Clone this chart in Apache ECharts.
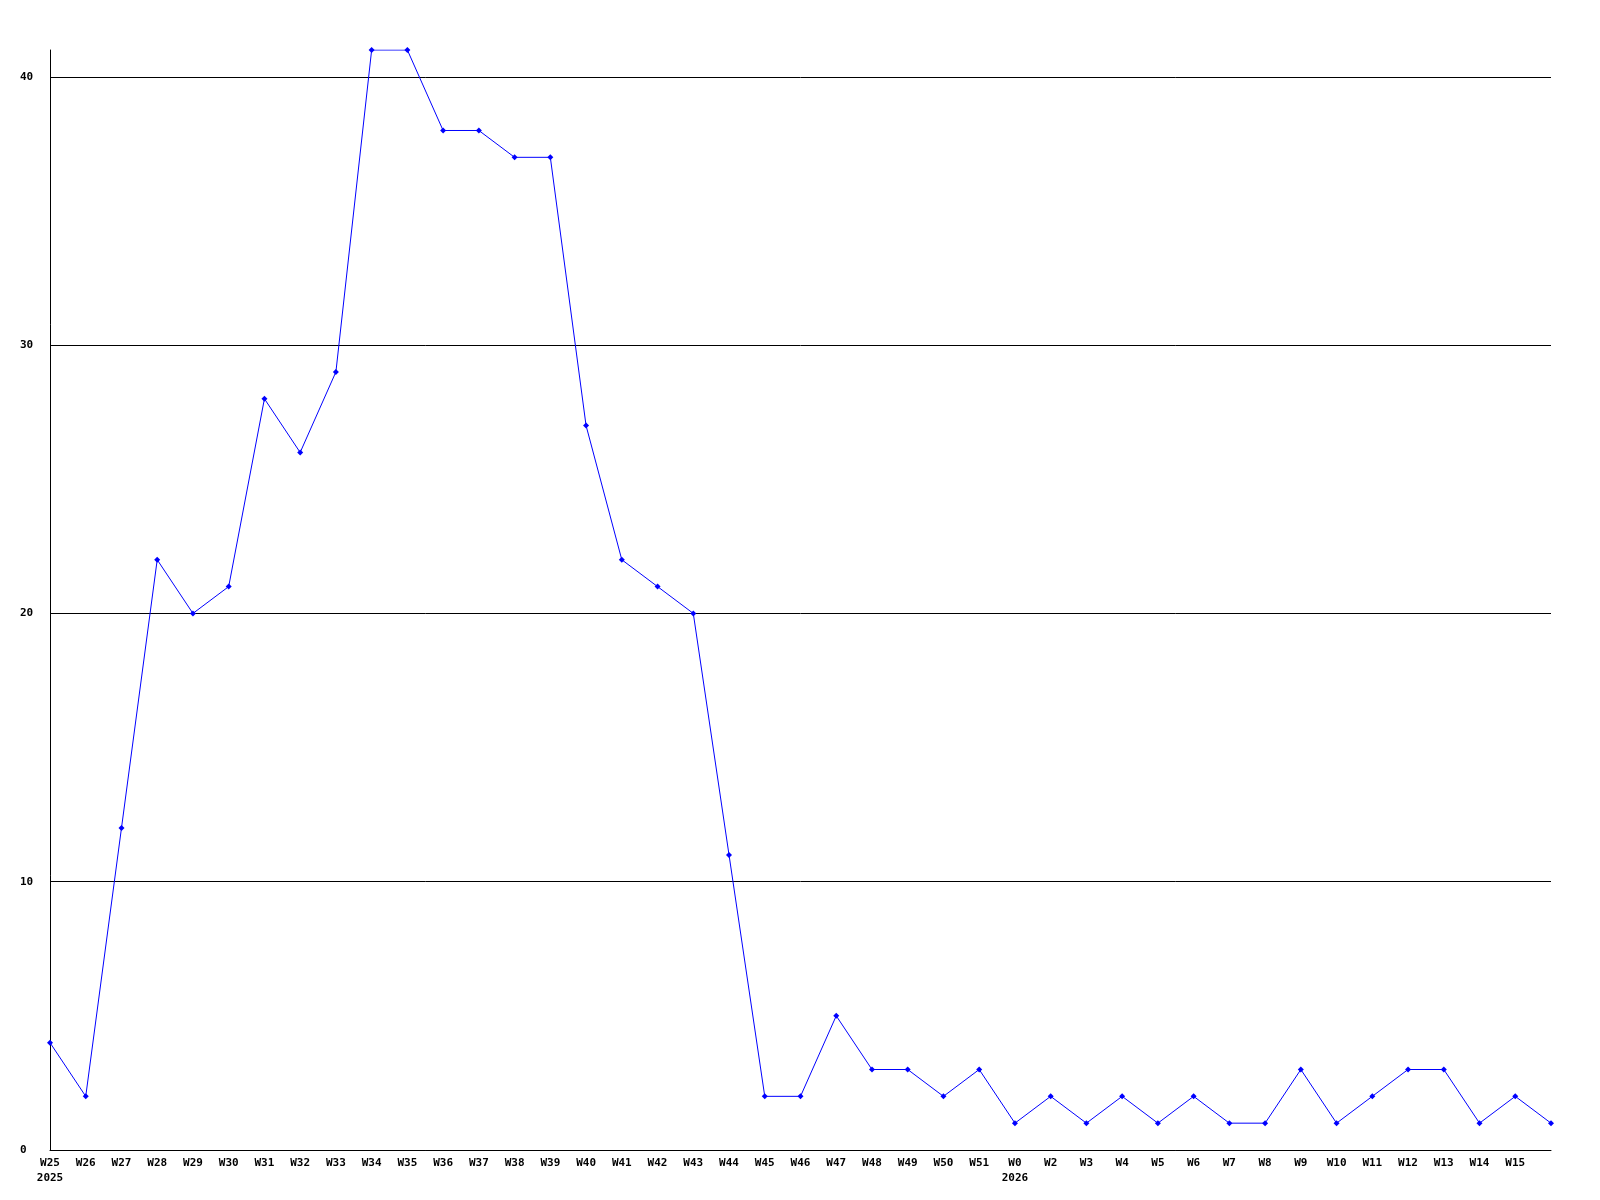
<!DOCTYPE html>
<html><head><meta charset="utf-8">
<script src="https://cdn.jsdelivr.net/npm/echarts@6/dist/echarts.min.js"></script>
<style>html,body{margin:0;padding:0;background:#fff}#c{width:1600px;height:1200px}</style>
</head><body><div id="c"></div>
<script>
const weeks = ['W25','W26','W27','W28','W29','W30','W31','W32','W33','W34','W35','W36','W37','W38','W39','W40','W41','W42','W43','W44','W45','W46','W47','W48','W49','W50','W51','W0','W2','W3','W4','W5','W6','W7','W8','W9','W10','W11','W12','W13','W14','W15',''];
const years = {0:'2025', 27:'2026'};
const values = [4,2,12,22,20,21,28,26,29,41,41,38,38,37,37,27,22,21,20,11,2,2,5,3,3,2,3,1,2,1,2,1,2,1,1,3,1,2,3,3,1,2,1];
const yTicks = [0,10,20,30,40];

const chart = echarts.init(document.getElementById('c'));
const font = {fontFamily:'DejaVu Sans Mono', fontWeight:'bold', fontSize:11, color:'#000'};
chart.setOption({
  animation:false,
  backgroundColor:'#fff',
  grid:{left:50, right:49, top:50, bottom:50, containLabel:false},
  xAxis:{
    type:'category', data:weeks, boundaryGap:false,
    axisLine:{lineStyle:{color:'#000', width:1}},
    axisTick:{show:false},
    splitLine:{show:false},
    axisLabel:Object.assign({}, font, {
      interval:0, margin:6, lineHeight:15,
      formatter:(v, i)=> years[i] ? v + '\n' + years[i] : v,
      align:'center'
    })
  },
  yAxis:{
    type:'value', min:0, max:41, interval:10,
    axisLine:{show:true, lineStyle:{color:'#000', width:1}},
    axisTick:{show:false},
    splitLine:{show:true, showMaxLine:false, showMinLine:false, lineStyle:{color:'#000', width:1}},
    axisLabel:Object.assign({}, font, {
      showMaxLabel:false, align:'left', margin:30,
      formatter:(v)=> yTicks.includes(v) ? String(v) : ''
    })
  },
  series:[{
    type:'line', data:values,
    lineStyle:{color:'#0000ff', width:1},
    itemStyle:{color:'#0000ff'},
    symbol:'diamond', symbolSize:6, showSymbol:true
  }]
});
</script></body></html>
